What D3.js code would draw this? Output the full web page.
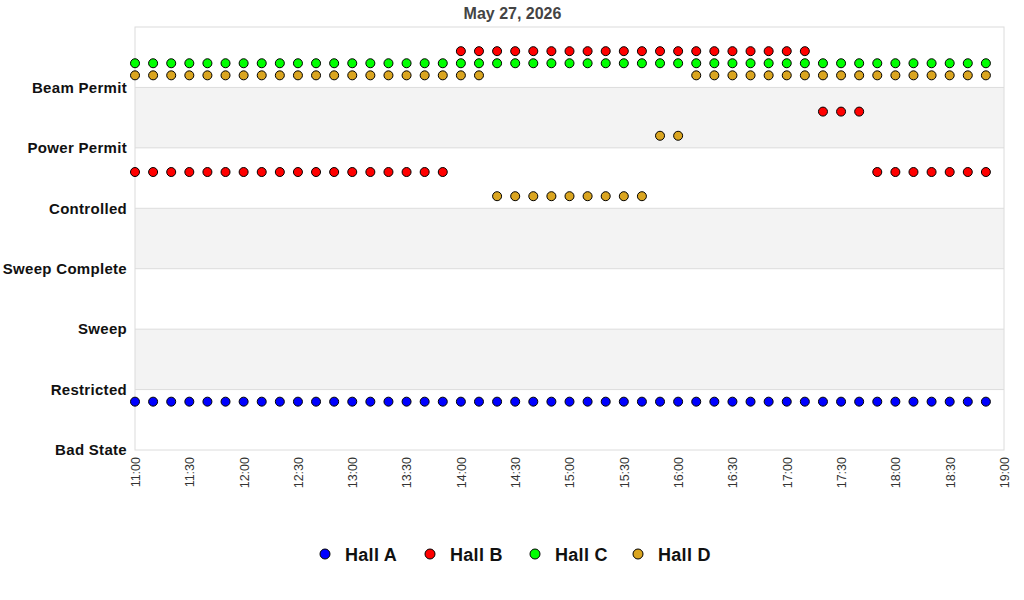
<!DOCTYPE html>
<html><head><meta charset="utf-8">
<script src="https://cdn.jsdelivr.net/npm/d3@7"></script>
<style>body{margin:0;background:#fff;font-family:"Liberation Sans",Arial,sans-serif}</style>
</head><body>
<svg id="c" width="1024" height="600"></svg>
<script>
const title = "May 27, 2026";
const stateLabels = ["Bad State","Restricted","Sweep","Sweep Complete","Controlled","Power Permit","Beam Permit"];
const times = ["11:00","11:10","11:20","11:30","11:40","11:50","12:00","12:10","12:20","12:30","12:40","12:50",
"13:00","13:10","13:20","13:30","13:40","13:50","14:00","14:10","14:20","14:30","14:40","14:50",
"15:00","15:10","15:20","15:30","15:40","15:50","16:00","16:10","16:20","16:30","16:40","16:50",
"17:00","17:10","17:20","17:30","17:40","17:50","18:00","18:10","18:20","18:30","18:40","18:50"];
const tickLabels = ["11:00","11:30","12:00","12:30","13:00","13:30","14:00","14:30","15:00","15:30","16:00","16:30","17:00","17:30","18:00","18:30","19:00"];
const hallNames = ["Hall A","Hall B","Hall C","Hall D"];
const hallColors = ["#0000ff","#ff0000","#00ff00","#daa520"];
const hallOffsets = [0.8,0.6,0.4,0.2];
// state index per 10-minute sample
const hallA = [0,0,0,0,0,0,0,0,0,0,0,0,0,0,0,0,0,0,0,0,0,0,0,0,0,0,0,0,0,0,0,0,0,0,0,0,0,0,0,0,0,0,0,0,0,0,0,0];
const hallB = [4,4,4,4,4,4,4,4,4,4,4,4,4,4,4,4,4,4,6,6,6,6,6,6,6,6,6,6,6,6,6,6,6,6,6,6,6,6,5,5,5,4,4,4,4,4,4,4];
const hallC = [6,6,6,6,6,6,6,6,6,6,6,6,6,6,6,6,6,6,6,6,6,6,6,6,6,6,6,6,6,6,6,6,6,6,6,6,6,6,6,6,6,6,6,6,6,6,6,6];
const hallD = [6,6,6,6,6,6,6,6,6,6,6,6,6,6,6,6,6,6,6,6,4,4,4,4,4,4,4,4,4,5,5,6,6,6,6,6,6,6,6,6,6,6,6,6,6,6,6,6];
const halls = [hallA,hallB,hallC,hallD];

const svg = d3.select("#c");
const L=135,R=1004,T=27,B=450;
const parse = d3.timeParse("%H:%M");
const x = d3.scaleTime().domain([parse("11:00"),parse("19:00")]).range([L,R]);
const y = d3.scaleLinear().domain([0,7]).range([B,T]);

// bands
for(let i=0;i<7;i++){
  svg.append("rect").attr("x",L).attr("width",R-L)
    .attr("y",y(i+1)).attr("height",y(i)-y(i+1))
    .attr("fill",(i%2===1)?"#f3f3f3":"#ffffff");
}
// grid lines
svg.append("g").selectAll("line").data(d3.range(1,7)).join("line")
  .attr("x1",L).attr("x2",R).attr("y1",d=>y(d)).attr("y2",d=>y(d))
  .attr("stroke","#dcdcdc").attr("stroke-width",1);
svg.append("rect").attr("x",L).attr("y",T).attr("width",R-L).attr("height",B-T)
  .attr("fill","none").attr("stroke","#dcdcdc");

// y axis labels
const yAxis = d3.axisLeft(y).tickValues(d3.range(0,7)).tickFormat(d=>stateLabels[d]).tickSize(0).tickPadding(8);
const gy = svg.append("g").attr("transform",`translate(${L},0)`).call(yAxis);
gy.select(".domain").remove();
gy.selectAll("text").attr("font-family","'Liberation Sans',Arial,sans-serif").attr("font-size",15)
  .attr("font-weight","bold").attr("fill","#111").attr("letter-spacing","0.3px");

// x axis
const xAxis = d3.axisBottom(x).tickValues(tickLabels.map(parse)).tickFormat(d3.timeFormat("%H:%M")).tickSize(0);
const gx = svg.append("g").attr("transform",`translate(0,${B})`).call(xAxis);
gx.select(".domain").remove();
gx.selectAll("text").attr("font-family","'Liberation Sans',Arial,sans-serif").attr("font-size",12.5)
  .attr("fill","#333").attr("transform","rotate(-90)").attr("text-anchor","end")
  .attr("x",-7).attr("y",0).attr("dy","0.35em");

// points
halls.forEach((vals,h)=>{
  svg.append("g").selectAll("circle").data(vals).join("circle")
    .attr("cx",(d,i)=>x(parse(times[i])))
    .attr("cy",d=>y(d+hallOffsets[h]))
    .attr("r",4.5).attr("fill",hallColors[h]).attr("stroke","#000").attr("stroke-width",1);
});

// title
svg.append("text").attr("x",(L+R)/2-57).attr("y",19).attr("text-anchor","middle")
  .attr("font-size",16).attr("font-weight","bold").attr("fill","#444").text(title);

// legend
const lx=[325,430,535,638];
hallNames.forEach((n,i)=>{
  svg.append("circle").attr("cx",lx[i]).attr("cy",554).attr("r",5)
    .attr("fill",hallColors[i]).attr("stroke","#000").attr("stroke-width",1);
  svg.append("text").attr("x",lx[i]+20).attr("y",561).attr("font-size",18).attr("font-weight","bold")
    .attr("fill","#111").attr("letter-spacing","0.3px").text(n);
});
</script>
</body></html>
